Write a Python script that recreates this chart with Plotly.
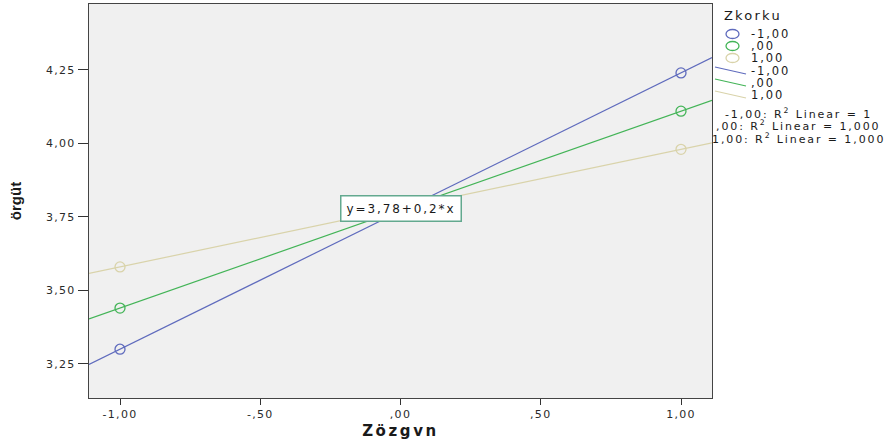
import numpy as np
import plotly.graph_objects as go

# Data: mean örgüt at low/high Zözgvn for each Zkorku group
x_vals = [-1.0, 1.0]
groups = ["-1,00", ",00", "1,00"]
y_low = [3.30, 3.44, 3.58]
y_high = [4.24, 4.11, 3.98]
r2_labels = ["-1,00: R<sup>2</sup> Linear = 1",
             ",00: R<sup>2</sup> Linear = 1,000",
             "1,00: R<sup>2</sup> Linear = 1,000"]
colors = ["#5f6bbd", "#43b457", "#d9d3aa"]

x_ticks = [-1.0, -0.5, 0.0, 0.5, 1.0]
x_ticktext = ["-1,00", "-,50", ",00", ",50", "1,00"]
y_ticks = [3.25, 3.50, 3.75, 4.00, 4.25]
y_ticktext = ["3,25", "3,50", "3,75", "4,00", "4,25"]

X_RANGE = [-1.1105, 1.1105]
Y_RANGE = [3.134, 4.4745]

W, H = 885, 446
ML, MR, MT, MB = 89, 173, 4, 48
PW, PH = W - ML - MR, H - MT - MB


def px(xp):
    return (xp - ML) / PW


def py(yp):
    return 1 - (yp - MT) / PH


def wide(text, spacing):
    """Wrap text in a span with extra letter spacing (wide SPSS-style lettering)."""
    return f'<span style="letter-spacing:{spacing}px">{text}</span>'


FONT = "DejaVu Sans, Verdana, sans-serif"
FONT_B = "Liberation Sans, Arial, sans-serif"
INK = "#1a1a1a"
fig = go.Figure()

fits = []
for i, g in enumerate(groups):
    ys = [y_low[i], y_high[i]]
    slope, icpt = np.polyfit(x_vals, ys, 1)
    fits.append((slope, icpt))
    xl = np.array(X_RANGE)
    fig.add_trace(go.Scatter(x=xl, y=icpt + slope * xl, mode="lines",
                             line=dict(color=colors[i], width=1.2),
                             showlegend=False, hoverinfo="skip"))
for i, g in enumerate(groups):
    fig.add_trace(go.Scatter(x=x_vals, y=[y_low[i], y_high[i]], mode="markers",
                             marker=dict(symbol="circle-open", size=10,
                                         color=colors[i], line=dict(width=1.3)),
                             showlegend=False, name=g))

# Equation label for the last fit line, placed at x = 0
slope, icpt = fits[2]
eq = f"y={icpt:.2f}+{slope:.1f}*x".replace(".", ",")
fig.add_annotation(x=0, y=icpt, text=wide(eq, 1.9), showarrow=False,
                   font=dict(family=FONT, size=12, color=INK),
                   bgcolor="white", bordercolor="#63a98f", borderwidth=1.5, borderpad=5)

# Legend drawn beside the plot
fig.add_annotation(xref="paper", yref="paper", x=px(722), y=py(16), text=wide("Zkorku", 2.2),
                   showarrow=False, xanchor="left", yanchor="middle",
                   font=dict(family=FONT, size=13, color=INK))
rows_c = [34, 46, 58]
rows_l = [71, 83, 95]
for i, g in enumerate(groups):
    yc = rows_c[i]
    fig.add_shape(type="circle", xref="paper", yref="paper",
                  x0=px(726), x1=px(739), y0=py(yc - 4.5), y1=py(yc + 4.5),
                  line=dict(color=colors[i], width=1.3))
    fig.add_annotation(xref="paper", yref="paper", x=px(749), y=py(yc), text=wide(g, 1.9),
                       showarrow=False, xanchor="left", yanchor="middle",
                       font=dict(family=FONT, size=11.5, color=INK))
    yl = rows_l[i]
    fig.add_shape(type="line", xref="paper", yref="paper",
                  x0=px(715), x1=px(746), y0=py(yl - 4), y1=py(yl + 3),
                  line=dict(color=colors[i], width=1.2))
    fig.add_annotation(xref="paper", yref="paper", x=px(749), y=py(yl), text=wide(g, 1.9),
                       showarrow=False, xanchor="left", yanchor="middle",
                       font=dict(family=FONT, size=11.5, color=INK))
for i, t in enumerate(r2_labels):
    fig.add_annotation(xref="paper", yref="paper", x=px(798), y=py(113 + 12.5 * i),
                       text=wide(t, 1.9), showarrow=False, xanchor="center", yanchor="middle",
                       font=dict(family=FONT, size=11, color=INK))

axis_common = dict(showgrid=False, zeroline=False, ticks="outside",
                   tickwidth=1.2, tickcolor="#333", showline=True, linecolor="#444",
                   linewidth=1.3, mirror=True,
                   tickfont=dict(family=FONT, size=11, color="#2a2a2a"))
fig.update_xaxes(range=X_RANGE, tickvals=x_ticks, ticktext=[wide(t, 1.3) for t in x_ticktext],
                 ticklen=6,
                 title=dict(text=wide("<b>Zözgvn</b>", 2.6), standoff=5,
                            font=dict(family=FONT, size=15, color=INK)),
                 **axis_common)
fig.update_yaxes(range=Y_RANGE, tickvals=y_ticks, ticktext=[wide(t, 1.3) for t in y_ticktext],
                 ticklen=10,
                 title=dict(text="<b>örgüt</b>", standoff=20,
                            font=dict(family=FONT_B, size=15, color=INK)),
                 **axis_common)

fig.update_layout(width=W, height=H, margin=dict(l=ML, r=MR, t=MT, b=MB),
                  plot_bgcolor="#f0f0f0", paper_bgcolor="white", showlegend=False)

fig.write_html("out.html")
